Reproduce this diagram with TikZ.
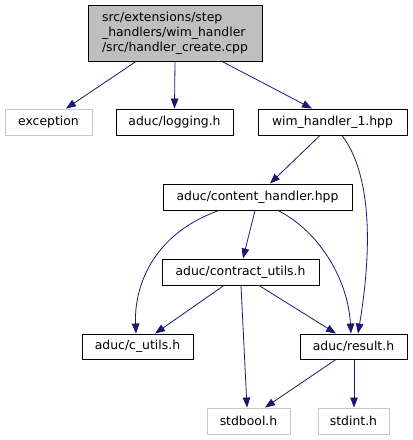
\documentclass[tikz,border=0pt]{standalone}
\usepackage{fontspec}
\setmainfont{DejaVu Sans}
\usetikzlibrary{arrows.meta}
\definecolor{edgeblue}{HTML}{191970}
\definecolor{graybox}{HTML}{BFBFBF}
\definecolor{lightborder}{HTML}{C8C8C8}
\tikzset{
  filebox/.style={draw=black, line width=0.9pt, fill=white, inner sep=0pt, font=\fontsize{12.4}{14.8}\selectfont},
  extbox/.style={draw=lightborder, line width=0.9pt, fill=white, inner sep=0pt, font=\fontsize{12.4}{14.8}\selectfont},
  dep/.style={draw=edgeblue, line width=0.8pt, -{Triangle[length=10pt,width=7.5pt]}},
}
\begin{document}
\begin{tikzpicture}[x=1pt,y=-1pt]
\useasboundingbox (0,0) rectangle (413,440);
\node[filebox, fill=graybox, minimum width=174pt, minimum height=56pt, align=left] (root) at (175,33)
  {src/extensions/step\\\_handlers/wim\_handler\\/src/handler\_create.cpp};
\node[extbox, minimum width=87pt, minimum height=26pt] (exc) at (48.5,122) {exception};
\node[filebox, minimum width=117pt, minimum height=26pt] (log) at (174.5,122) {aduc/logging.h};
\node[filebox, minimum width=149pt, minimum height=26pt] (wim) at (332.5,122) {wim\_handler\_1.hpp};
\node[filebox, minimum width=189pt, minimum height=26pt] (ch) at (257.5,197) {aduc/content\_handler.hpp};
\node[filebox, minimum width=157pt, minimum height=26pt] (cu) at (240.5,272) {aduc/contract\_utils.h};
\node[filebox, minimum width=111pt, minimum height=25pt] (cut) at (137.5,346.5) {aduc/c\_utils.h};
\node[filebox, minimum width=107pt, minimum height=25pt] (res) at (353.5,346.5) {aduc/result.h};
\node[extbox, minimum width=83pt, minimum height=26pt] (sb) at (248.5,421) {stdbool.h};
\node[extbox, minimum width=71pt, minimum height=26pt] (si) at (353.5,421) {stdint.h};

\draw[dep] ([xshift=-39pt]root.south) -- ([xshift=17.5pt]exc.north);
\draw[dep] (root.south) -- (log.north);
\draw[dep] ([xshift=47pt]root.south) -- ([xshift=-20.5pt]wim.north);
\draw[dep] ([xshift=-12.5pt]wim.south) -- ([xshift=12.5pt]ch.north);
\draw[dep] ([xshift=9.5pt]wim.south) .. controls (372,175) and (372,250) .. ([xshift=4.5pt]res.north);
\draw[dep] ([xshift=-2.5pt]ch.south) -- ([xshift=2.5pt]cu.north);
\draw[dep] ([xshift=-38.5pt]ch.south) .. controls (150,235) and (134,290) .. ([xshift=-1.5pt]cut.north);
\draw[dep] ([xshift=20.5pt]ch.south) .. controls (320,232) and (348,280) .. ([xshift=-2.5pt]res.north);
\draw[dep] ([xshift=-16.5pt]cu.south) -- ([xshift=17.5pt]cut.north);
\draw[dep] ([xshift=0.5pt]cu.south) -- ([xshift=-1.5pt]sb.north);
\draw[dep] ([xshift=18.5pt]cu.south) -- ([xshift=-17.5pt]res.north);
\draw[dep] ([xshift=-17.5pt]res.south) -- ([xshift=16.5pt]sb.north);
\draw[dep] ([xshift=0.5pt]res.south) -- ([xshift=0.5pt]si.north);
\end{tikzpicture}
\end{document}
